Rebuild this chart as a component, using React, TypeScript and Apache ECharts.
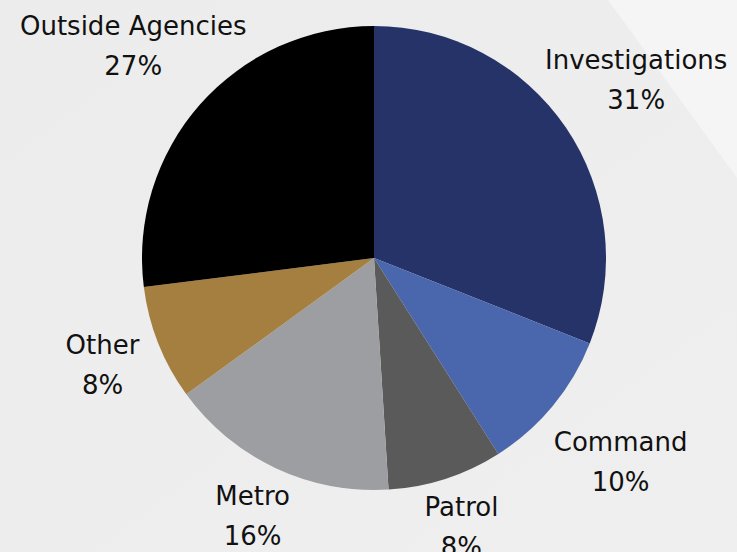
import React, { useEffect, useRef } from "react";
import * as echarts from "echarts";

const categories = ["Investigations", "Command", "Patrol", "Metro", "Other", "Outside Agencies"];
const shares = [31, 10, 8, 16, 8, 27];
const colors = ["#263369", "#4a67ae", "#5a5a5a", "#9d9ea2", "#a57f3f", "#000000"];

// layout: distance of each label centre from the pie centre, along its slice's mid-angle
const LABEL_DIST = [317, 320, 283, 285, 292, 321];

const CX = 374;
const CY = 258;
const R = 232;

export default function App() {
  const ref = useRef<HTMLDivElement>(null);
  useEffect(() => {
    document.body.style.margin = "0";
    const chart = echarts.init(ref.current!, null, { renderer: "svg" });
    const total = shares.reduce((a, b) => a + b, 0);
    const mids: number[] = [];
    let acc = 0;
    shares.forEach((v) => {
      mids.push(((acc + v / 2) / total) * Math.PI * 2);
      acc += v;
    });
    chart.setOption({
      animation: false,
      backgroundColor: {
        type: "linear",
        x: 0, y: 0, x2: 1, y2: 1,
        colorStops: [
          { offset: 0, color: "#ececec" },
          { offset: 1, color: "#efefef" },
        ],
      },
      graphic: [
        {
          type: "polygon",
          silent: true,
          z: -1,
          shape: { points: [[608, 0], [737, 0], [737, 178]] },
          style: { fill: "#f5f5f5" },
        },
      ],
      series: [
        {
          type: "pie",
          center: [CX, CY],
          radius: R,
          startAngle: 90,
          clockwise: true,
          avoidLabelOverlap: false,
          itemStyle: { borderWidth: 0 },
          label: {
            show: true,
            position: "outside",
            formatter: "{b}\n{c}%",
            fontFamily: "DejaVu Sans",
            fontSize: 26,
            lineHeight: 40,
            color: "#111111",
            align: "center",
          },
          labelLine: { show: false },
          labelLayout: (params: any) => {
            const i = params.dataIndex;
            const a = mids[i];
            const d = LABEL_DIST[i];
            return {
              x: CX + Math.sin(a) * d,
              y: CY - Math.cos(a) * d,
              align: "center",
              verticalAlign: "middle",
            };
          },
          data: categories.map((name, i) => ({
            name,
            value: shares[i],
            itemStyle: { color: colors[i] },
          })),
        },
      ],
    });
    return () => chart.dispose();
  }, []);
  return <div ref={ref} style={{ width: 737, height: 552 }} />;
}
